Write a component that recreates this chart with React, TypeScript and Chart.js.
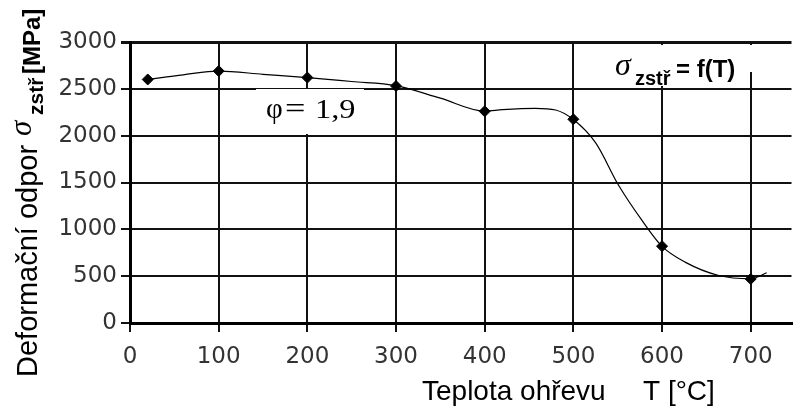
import React, { useEffect, useRef } from "react";
import { Chart, registerables } from "chart.js";

Chart.register(...registerables);

// measured points
const temperatures = [20, 100, 200, 300, 400, 500, 600, 700];
const resistance = [2600, 2690, 2620, 2530, 2260, 2175, 820, 470];

// hand-drawn fitted curve
const curveT = [20, 60, 100, 150, 200, 250, 300, 350, 400, 420, 457, 480, 500, 525, 551, 577, 600, 626, 663, 700, 718];
const curveR = [2600, 2650, 2690, 2655, 2620, 2578, 2535, 2400, 2262, 2278, 2292, 2274, 2172, 1925, 1470, 1100, 818, 650, 510, 472, 537];

const xTicks = [0, 100, 200, 300, 400, 500, 600, 700];
const yTicks = [0, 500, 1000, 1500, 2000, 2500, 3000];

const yTitleMain = "Deformační odpor";
const sigma = "σ";
const sub = "zstř";
const unit = "[MPa]";
const xTitleA = "Teplota ohřevu";
const xTitleB = "T [°C]";
const phiText = ["φ", "=", "1,9"];
const funcText = "= f(T)";

const SANS = "'Liberation Sans', Arial, sans-serif";
const SERIF = "'Liberation Serif', 'Times New Roman', serif";

const textPlugin = {
  id: "texts",
  beforeDatasetsDraw(chart: any) {
    const ctx = chart.ctx as CanvasRenderingContext2D;
    ctx.save();
    // white boxes behind annotations
    ctx.fillStyle = "#fff";
    ctx.fillRect(256, 89, 108, 45);
    ctx.fillRect(612, 45, 134, 41);
    ctx.fillRect(746, 45, 16, 27);

    ctx.fillStyle = "#000";
    ctx.textBaseline = "alphabetic";
    ctx.textAlign = "left";
    // phi = 1,9
    ctx.font = `29px ${SERIF}`;
    ctx.fillText(phiText[0], 266, 118);
    ctx.save();
    ctx.translate(285, 118);
    ctx.scale(1.25, 1);
    ctx.fillText(phiText[1], 0, 0);
    ctx.restore();
    ctx.font = `27px ${SERIF}`;
    ctx.save();
    ctx.translate(315, 118);
    ctx.scale(1.2, 1);
    ctx.fillText(phiText[2], 0, 0);
    ctx.restore();
    // sigma_zstr = f(T)
    ctx.font = `italic 32px ${SERIF}`;
    ctx.fillText(sigma, 615, 75);
    ctx.font = `bold 20px ${SANS}`;
    ctx.fillText(sub, 635, 85);
    ctx.font = `bold 24px ${SANS}`;
    ctx.fillText(funcText, 676, 77);
    ctx.restore();
  },
  afterDraw(chart: any) {
    const ctx = chart.ctx as CanvasRenderingContext2D;
    ctx.save();
    ctx.fillStyle = "#000";
    ctx.textBaseline = "alphabetic";
    ctx.textAlign = "left";
    // x title
    ctx.font = `28px ${SANS}`;
    ctx.fillText(xTitleA, 422, 400);
    ctx.fillText(xTitleB, 643, 400);
    // y title (rotated)
    ctx.translate(37, 377);
    ctx.rotate(-Math.PI / 2);
    ctx.font = `29px ${SANS}`;
    ctx.fillText(yTitleMain, 0, 0);
    ctx.font = `italic 31px ${SERIF}`;
    ctx.fillText(sigma, 241, -6);
    ctx.font = `bold 21px ${SANS}`;
    ctx.fillText(sub, 262, 6);
    ctx.font = `bold 24px ${SANS}`;
    ctx.fillText(unit, 303, 3);
    ctx.restore();
  },
};

export default function App() {
  const ref = useRef<HTMLCanvasElement | null>(null);
  useEffect(() => {
    document.body.style.margin = "0";
    const canvas = ref.current!;
    const tickFont = { family: "'DejaVu Sans', sans-serif", size: 23 };
    const fmt = (v: any) => String(v);
    const chart = new Chart(canvas, {
      type: "scatter",
      data: {
        datasets: [
          {
            data: curveT.map((t, i) => ({ x: t, y: curveR[i] })),
            showLine: true,
            borderColor: "#000",
            borderWidth: 1.2,
            pointRadius: 0,
            cubicInterpolationMode: "monotone",
          } as any,
          {
            data: temperatures.map((t, i) => ({ x: t, y: resistance[i] })),
            showLine: false,
            pointStyle: "rectRot",
            pointRadius: 5.5,
            backgroundColor: "#000",
            borderColor: "#000",
            borderWidth: 1,
          },
        ],
      },
      options: {
        responsive: false,
        animation: false,
        devicePixelRatio: 1,
        layout: { padding: { top: 42, right: 0, bottom: 0, left: 0 } },
        plugins: { legend: { display: false }, tooltip: { enabled: false } },
        scales: {
          x: {
            type: "linear",
            min: 0,
            max: 746,
            afterBuildTicks: (s: any) => {
              s.ticks = xTicks.map((v) => ({ value: v }));
            },
            afterFit: (s: any) => {
              s.height = 85;
            },
            grid: { color: "#111", lineWidth: 2, tickLength: 9 },
            border: { color: "#000", width: 3 },
            ticks: { font: tickFont, color: "#333", padding: 11, maxRotation: 0, autoSkip: false, callback: fmt },
          },
          y: {
            min: 0,
            max: 3000,
            afterBuildTicks: (s: any) => {
              s.ticks = yTicks.map((v) => ({ value: v }));
            },
            afterFit: (s: any) => {
              s.width = 130;
            },
            grid: {
              color: "#111",
              lineWidth: (c: any) => (c.tick && c.tick.value === 3000 ? 3 : 2),
              tickLength: 9,
            },
            border: { color: "#000", width: 3 },
            ticks: { font: tickFont, color: "#333", padding: 4, autoSkip: false, callback: fmt },
          },
        },
      },
      plugins: [textPlugin],
    } as any);
    return () => chart.destroy();
  }, []);
  return <canvas ref={ref} width={798} height={408} style={{ display: "block" }} />;
}
